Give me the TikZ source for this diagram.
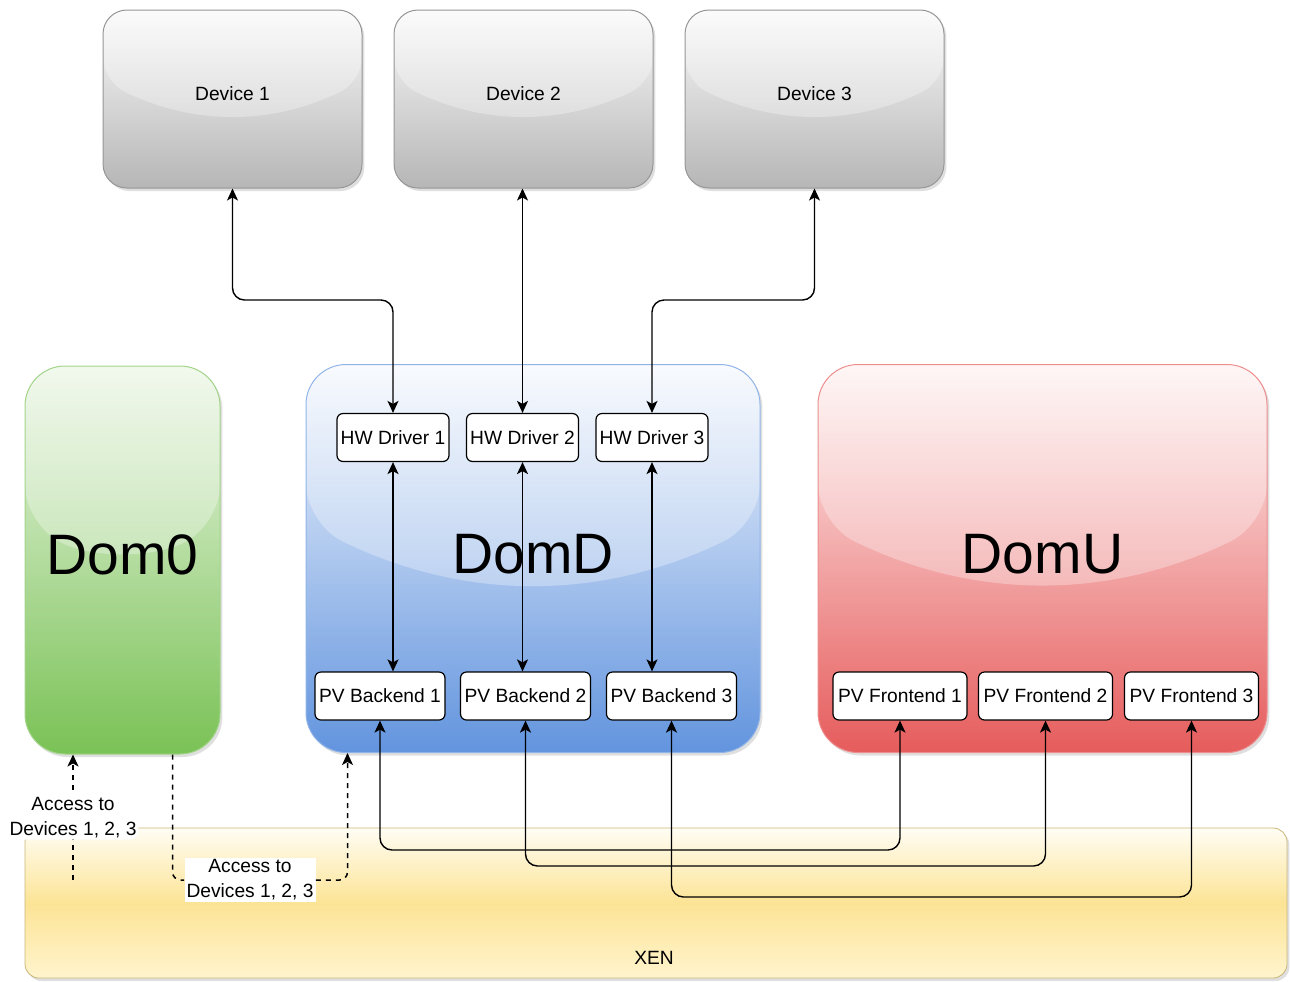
\documentclass[tikz,border=0pt]{standalone}
\usepackage{fontspec}
\setmainfont{Liberation Sans}
\usetikzlibrary{arrows.meta,positioning,calc,shadows}
\definecolor{devtop}{RGB}{250,250,250}
\definecolor{devbot}{RGB}{182,182,182}
\definecolor{devline}{RGB}{150,150,150}
\definecolor{dom0top}{RGB}{236,246,230}
\definecolor{dom0bot}{RGB}{122,194,86}
\definecolor{domdtop}{RGB}{246,249,254}
\definecolor{domdbot}{RGB}{98,148,222}
\definecolor{domutop}{RGB}{255,243,243}
\definecolor{domubot}{RGB}{230,92,92}
\definecolor{xentop}{RGB}{255,253,244}
\definecolor{xenmid}{RGB}{252,228,150}
\definecolor{xenbot}{RGB}{255,244,205}
\newcommand\smallfs{\fontsize{9.6pt}{12.5pt}\selectfont}
\newcommand\bigfs{\fontsize{28.5pt}{32pt}\selectfont}
\tikzset{
  glossy/.style={path picture={
    \fill[white,fill opacity=0.3] (path picture bounding box.north west) -- (path picture bounding box.north east)
      -- ($(path picture bounding box.north east)!#1!(path picture bounding box.south east)$)
      to[bend left=26] ($(path picture bounding box.north west)!#1!(path picture bounding box.south west)$) -- cycle;}},
  softshadow/.style={drop shadow={shadow xshift=1.2pt,shadow yshift=-1.5pt,opacity=0.25}},
  devbox/.style={draw=devline,line width=0.5pt,rounded corners=12pt,minimum width=129.5pt,minimum height=89pt,
    top color=devtop,bottom color=devbot,glossy=0.4,softshadow,font=\smallfs,text depth=5pt},
  dombox/.style={line width=0.5pt,rounded corners=20pt,minimum height=194pt,glossy=0.41,softshadow,
    font=\bigfs,inner sep=0pt,text depth=5pt},
  dom0box/.style={dombox,draw=dom0bot!70!white,minimum width=97.5pt,top color=dom0top,bottom color=dom0bot},
  domdbox/.style={dombox,draw=domdbot!70!white,minimum width=227pt,top color=domdtop,bottom color=domdbot},
  domubox/.style={dombox,draw=domubot!70!white,minimum width=224.5pt,top color=domutop,bottom color=domubot},
  xenbox/.style={draw=xenmid!80!black,line width=0.4pt,rounded corners=7pt,minimum width=631pt,minimum height=75pt,
    top color=xentop,bottom color=xenbot,middle color=xenmid,softshadow},
  inbox/.style={draw=black,fill=white,line width=0.6pt,rounded corners=3pt,minimum height=24pt,inner sep=1pt,font=\smallfs},
  hwbox/.style={inbox,minimum width=56pt},
  pvbox/.style={inbox,minimum width=65pt},
  febox/.style={inbox,minimum width=67pt},
  link/.style={<->,>={Stealth[length=6pt,width=5.5pt,inset=1.5pt]},line width=0.7pt,rounded corners=6pt},
  access/.style={->,>={Stealth[length=6pt,width=5.5pt,inset=1.5pt]},dash pattern=on 2.5pt off 2.5pt,line width=0.75pt,rounded corners=4pt},
  accnote/.style={fill=white,align=center,inner sep=1pt,font=\smallfs},
  plaintxt/.style={font=\smallfs,inner sep=1pt}
}
\begin{document}
\begin{tikzpicture}[x=0.5pt,y=-0.5pt]
  \useasboundingbox (0,0) rectangle (1290,981);
  % hypervisor layer
  \node[xenbox] (xen) at (656,903) {};
  \node[plaintxt] (xenlbl) at (654,958) {XEN};
  % domains
  \node[dom0box] (dom0) at (122.5,560) {Dom0};
  \node[domdbox] (domd) at (533,558.5) {DomD};
  \node[domubox] (domu) at (1042.5,558.5) {DomU};
  % physical devices
  \node[devbox] (dev1) at (232.5,99) {Device 1};
  \node[devbox] (dev2) at (523.5,99) {Device 2};
  \node[devbox] (dev3) at (814.5,99) {Device 3};
  % drivers and pv ends
  \node[hwbox] (hw1) at (393,437.5) {HW Driver 1};
  \node[hwbox] (hw2) at (522.5,437.5) {HW Driver 2};
  \node[hwbox] (hw3) at (652,437.5) {HW Driver 3};
  \node[pvbox] (pv1) at (380,696) {PV Backend 1};
  \node[pvbox] (pv2) at (525.5,696) {PV Backend 2};
  \node[pvbox] (pv3) at (671.5,696) {PV Backend 3};
  \node[febox] (fe1) at (900,696) {PV Frontend 1};
  \node[febox] (fe2) at (1045.5,696) {PV Frontend 2};
  \node[febox] (fe3) at (1191.5,696) {PV Frontend 3};
  % device links
  \draw[link] (dev1.south) -- (dev1.south |- 0,300) -| (hw1.north);
  \draw[link] (hw2.north |- dev2.south) -- (hw2.north);
  \draw[link] (dev3.south) -- (dev3.south |- 0,300) -| (hw3.north);
  \foreach \i in {1,2,3}
    \draw[link] (hw\i.south) -- (hw\i.south |- pv\i.north);
  % backend <-> frontend
  \draw[link] (pv1.south) -- (pv1.south |- 0,850) -| (fe1.south);
  \draw[link] (pv2.south) -- (pv2.south |- 0,866) -| (fe2.south);
  \draw[link] (pv3.south) -- (pv3.south |- 0,897) -| (fe3.south);
  % device access
  \coordinate (acc0) at (73,880);
  \draw[access] (acc0) -- node[accnote] (acc1) {Access to\\Devices 1, 2, 3} (acc0 |- dom0.south);
  \node[accnote] (acc2) at (250,880) {Access to\\Devices 1, 2, 3};
  \draw[access,-] ($(dom0.south)+(50,0)$) |- (acc2.west);
  \draw[access] (acc2.east) -| ($(domd.south west)+(42,0)$);
\end{tikzpicture}
\end{document}
